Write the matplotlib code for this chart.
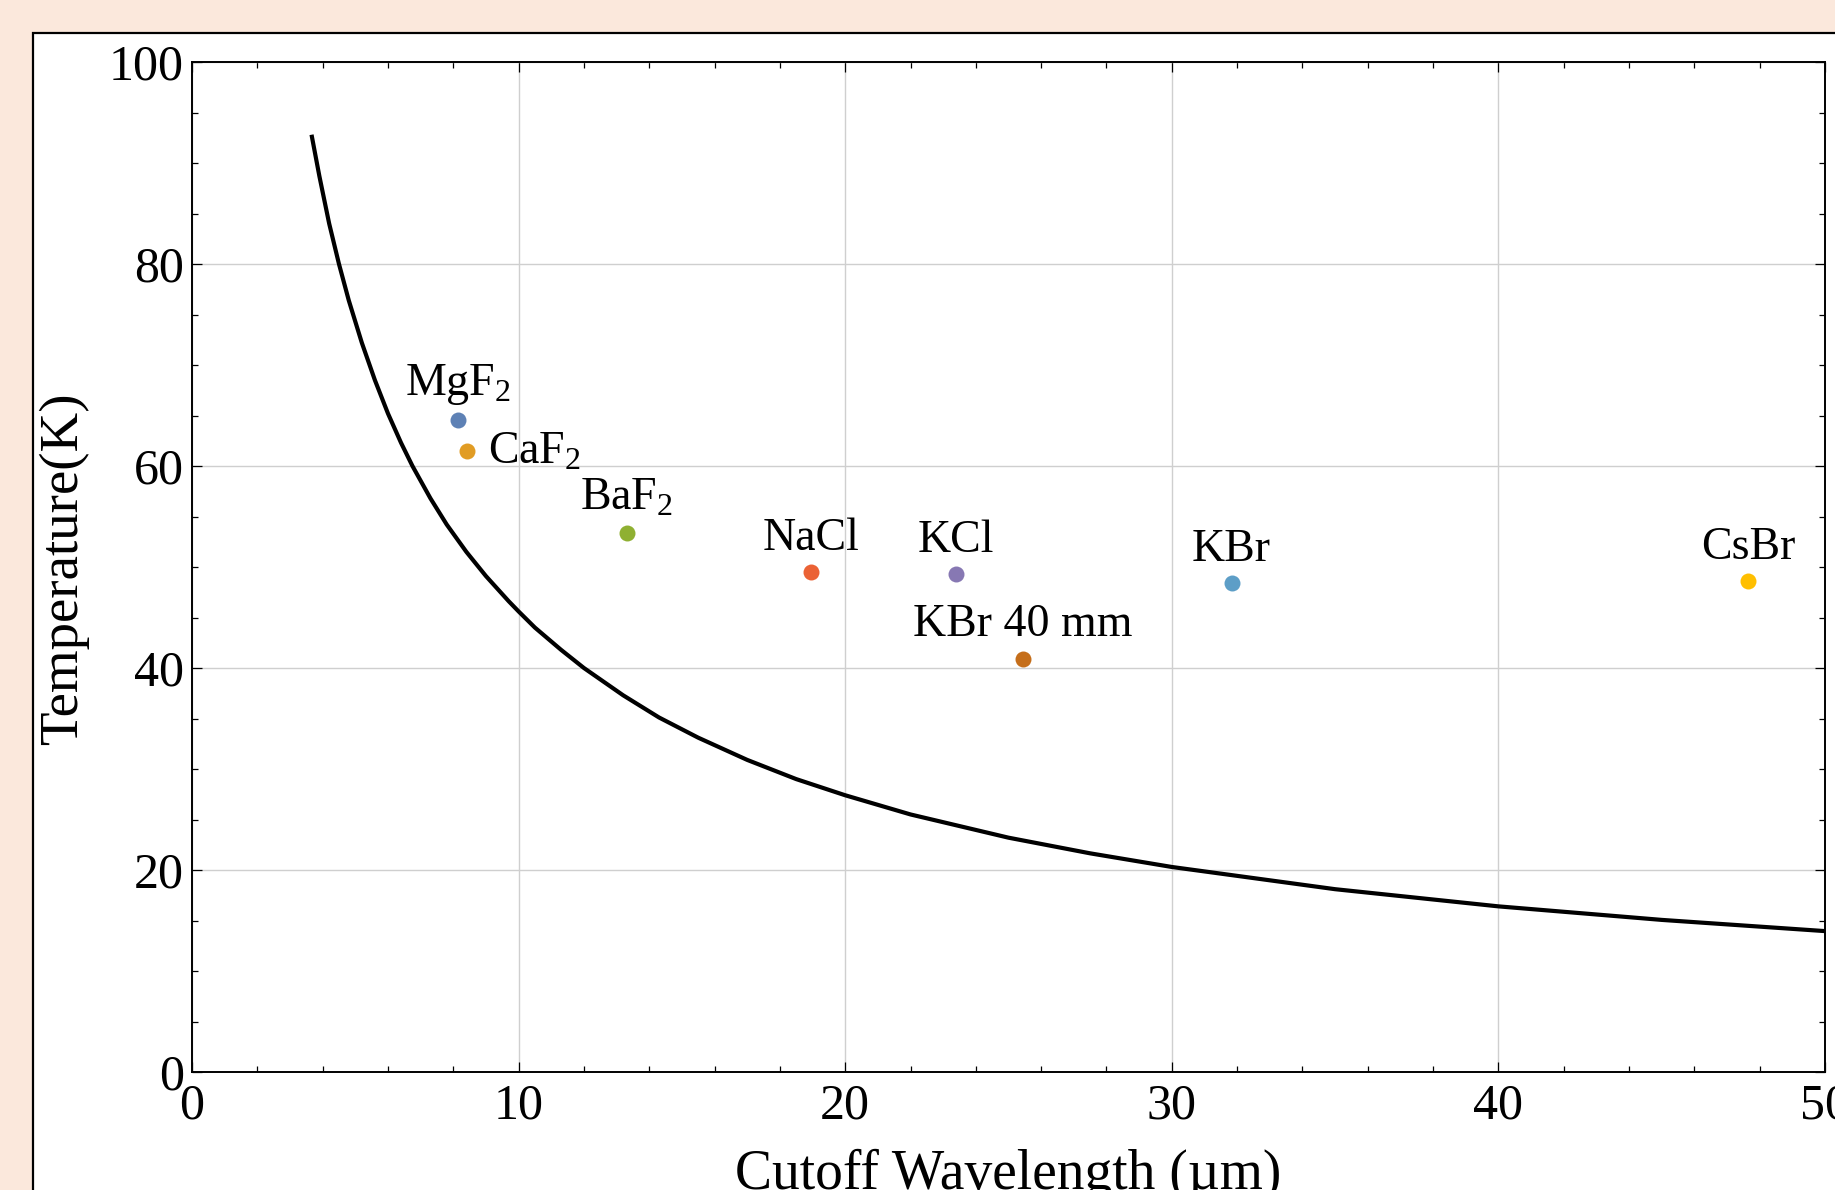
import matplotlib
matplotlib.use("Agg")
import matplotlib.pyplot as plt
from matplotlib.patches import Rectangle
from matplotlib.ticker import MultipleLocator

plt.rcParams['font.family'] = ['Liberation Serif', 'DejaVu Serif']
plt.rcParams['mathtext.fontset'] = 'custom'
plt.rcParams['mathtext.rm'] = 'Liberation Serif'
plt.rcParams['mathtext.it'] = 'Liberation Serif:italic'

# curve
curve_x = [3.66, 3.9, 4.2, 4.5, 4.8, 5.2, 5.6, 6.0, 6.4, 6.75, 7.3, 7.8, 8.4, 9.0,
           9.7, 10.0, 10.5, 11.3, 12.0, 13.2, 14.3, 15.5, 17.0, 18.5, 20.0, 22.0,
           25.0, 27.5, 30.0, 35.0, 40.0, 45.0, 50.0]
curve_y = [92.8, 88.7, 84.0, 80.0, 76.4, 72.2, 68.5, 65.2, 62.3, 60.0, 56.8, 54.2,
           51.5, 49.1, 46.6, 45.6, 44.0, 41.8, 40.0, 37.3, 35.1, 33.1, 30.9, 29.0,
           27.4, 25.5, 23.2, 21.65, 20.3, 18.1, 16.4, 15.06, 13.95]

# materials
names = ['MgF$_2$', 'CaF$_2$', 'BaF$_2$', 'NaCl', 'KCl', 'KBr 40 mm', 'KBr', 'CsBr']
wavelength = [8.15, 8.43, 13.31, 18.94, 23.39, 25.43, 31.83, 47.65]
temperature = [64.6, 61.5, 53.4, 49.5, 49.3, 40.9, 48.4, 48.6]
colors = ['#5E81B5', '#E19C24', '#8FB032', '#EB6235', '#8778B3', '#C56E1A',
          '#5D9EC7', '#FFBF00']
label_side = ['above', 'right', 'above', 'above', 'above', 'above', 'above', 'above']

fig = plt.figure(figsize=(18.35, 11.90), dpi=100, facecolor='#fbe8dc')

# white panel with black border, behind everything
panel = Rectangle((33 / 1835, -0.2), 1.2, 1.2 - 33 / 1190, transform=fig.transFigure,
                  facecolor='white', edgecolor='black', linewidth=1.6, zorder=-10)
fig.patches.append(panel)

ax = fig.add_axes([192 / 1835, 1 - 1072 / 1190, 1633 / 1835, 1010 / 1190])
ax.set_zorder(1)
ax.set_facecolor('white')

ax.plot(curve_x, curve_y, color='black', lw=3.0, solid_capstyle='butt',
        solid_joinstyle='round', zorder=3)

for x, y, c, name, side in zip(wavelength, temperature, colors, names, label_side):
    ax.plot(x, y, 'o', color=c, ms=11.5, mec='none', zorder=4)
    if side == 'above':
        ax.annotate(name, (x, y), xytext=(0, 9), textcoords='offset points',
                    ha='center', va='bottom', fontsize=33)
    else:
        ax.annotate(name, (x, y), xytext=(15, -1), textcoords='offset points',
                    ha='left', va='center', fontsize=33)

ax.set_xlim(0, 50)
ax.set_ylim(0, 100)
ax.xaxis.set_major_locator(MultipleLocator(10))
ax.xaxis.set_minor_locator(MultipleLocator(2))
ax.yaxis.set_major_locator(MultipleLocator(20))
ax.yaxis.set_minor_locator(MultipleLocator(5))
ax.grid(True, which='major', color='#cfcfcf', lw=1.0)
ax.set_axisbelow(True)

ax.tick_params(which='both', direction='in', top=True, right=True, width=0.9)
ax.tick_params(which='major', length=7, labelsize=36)
ax.tick_params(axis='x', which='major', pad=8)
ax.tick_params(axis='y', which='major', pad=6)
ax.tick_params(which='minor', length=4)
for s in ax.spines.values():
    s.set_linewidth(1.4)

fig.text(64 / 1835, 1 - 569 / 1190, 'Temperature(K)', rotation=90,
         ha='center', va='center', fontsize=39.5)
fig.text(1008 / 1835, 1 - 1189 / 1190, 'Cutoff Wavelength (\u00b5m)',
         ha='center', va='baseline', fontsize=40)

fig.savefig('out.png', dpi=100, facecolor=fig.get_facecolor())
